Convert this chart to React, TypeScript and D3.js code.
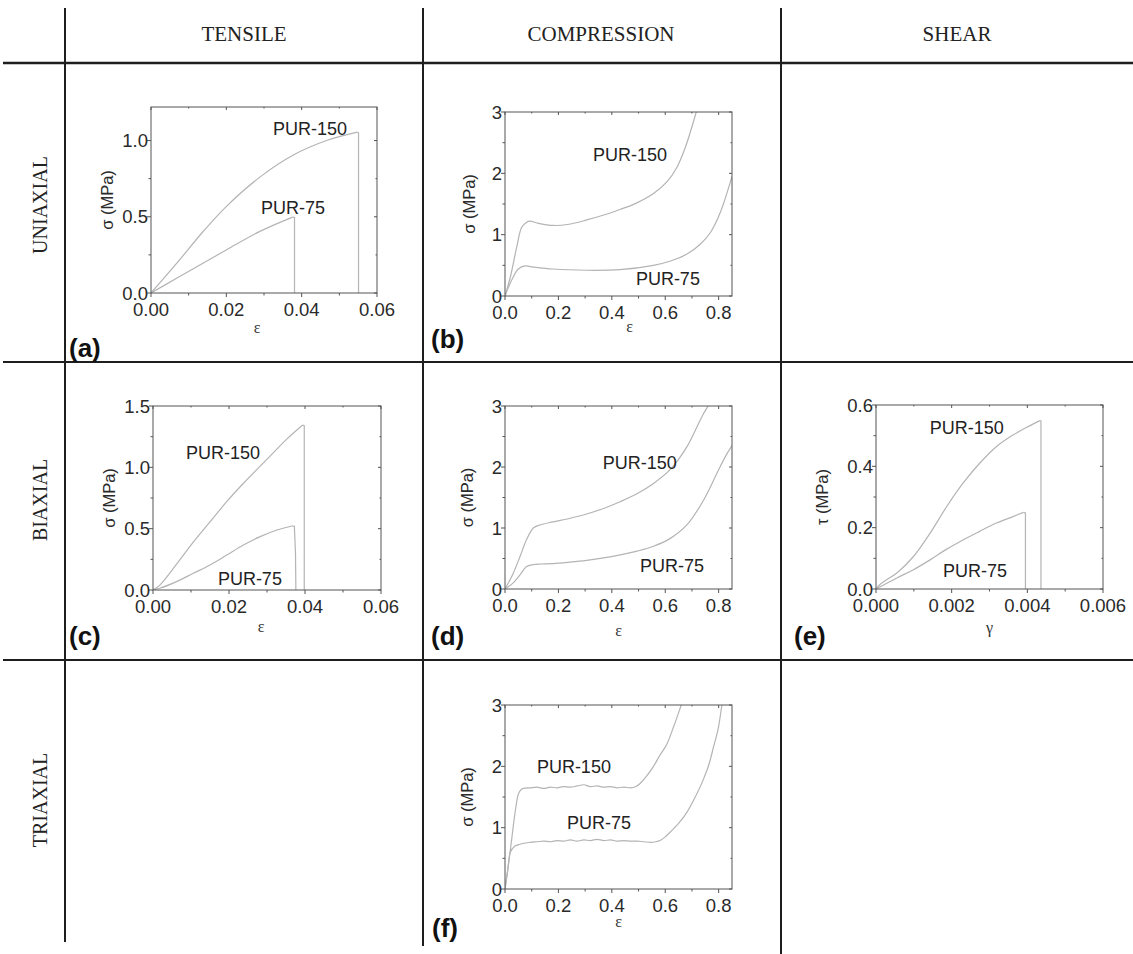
import React from "react";
import * as d3 from "d3";

type Pt = [number, number];

// ---------- headers ----------
const columnHeaders = ["TENSILE", "COMPRESSION", "SHEAR"];
const rowHeaders = ["UNIAXIAL", "BIAXIAL", "TRIAXIAL"];

// ---------- data (ε or γ, stress in MPa) ----------
const aPur150: Pt[] = [[0, 0], [0.0069, 0.197], [0.0139, 0.405], [0.0201, 0.57], [0.0289, 0.76], [0.0378, 0.905], [0.0466, 1.0], [0.0548, 1.055]];
const aPur150Drop: Pt[] = [[0.0548, 1.055], [0.0551, 1.05], [0.0551, 0]];
const aPur75: Pt[] = [[0, 0], [0.0069, 0.098], [0.0139, 0.197], [0.0201, 0.284], [0.0289, 0.404], [0.0376, 0.498]];
const aPur75Drop: Pt[] = [[0.0376, 0.498], [0.0381, 0.495], [0.0381, 0]];

const bPur150: Pt[] = [[0, 0], [0.02, 0.31], [0.044, 0.8], [0.0625, 1.12], [0.08, 1.2], [0.094, 1.22], [0.12, 1.19], [0.18, 1.15], [0.24, 1.17], [0.306, 1.24], [0.37, 1.32], [0.43, 1.41], [0.49, 1.51], [0.556, 1.67], [0.606, 1.86], [0.644, 2.1], [0.675, 2.42], [0.7, 2.76], [0.716, 3.0], [0.725, 3.15]];
const bPur75: Pt[] = [[0, 0], [0.025, 0.26], [0.05, 0.44], [0.075, 0.49], [0.094, 0.48], [0.18, 0.44], [0.306, 0.42], [0.43, 0.43], [0.556, 0.5], [0.62, 0.57], [0.68, 0.68], [0.73, 0.84], [0.77, 1.04], [0.806, 1.36], [0.85, 1.95]];

const cPur150: Pt[] = [[0, 0], [0.0018, 0.04], [0.0062, 0.21], [0.0106, 0.39], [0.015, 0.555], [0.0194, 0.72], [0.0238, 0.87], [0.0282, 1.01], [0.0317, 1.12], [0.0352, 1.23], [0.0394, 1.345]];
const cPur150Drop: Pt[] = [[0.0394, 1.345], [0.0398, 1.34], [0.0398, 0]];
const cPur75: Pt[] = [[0, 0], [0.0018, 0.014], [0.0062, 0.068], [0.0106, 0.136], [0.015, 0.204], [0.0194, 0.285], [0.0238, 0.367], [0.0282, 0.435], [0.0326, 0.489], [0.0365, 0.522]];
const cPur75Drop: Pt[] = [[0.0365, 0.522], [0.0372, 0.52], [0.0375, 0.3], [0.0376, 0]];

const dPur150: Pt[] = [[0, 0], [0.031, 0.26], [0.056, 0.53], [0.081, 0.81], [0.106, 1.0], [0.131, 1.05], [0.18, 1.1], [0.244, 1.16], [0.306, 1.23], [0.369, 1.32], [0.431, 1.43], [0.494, 1.56], [0.556, 1.73], [0.619, 1.96], [0.681, 2.33], [0.719, 2.66], [0.744, 2.88], [0.76, 3.0], [0.768, 3.1]];
const dPur75: Pt[] = [[0, 0], [0.031, 0.1], [0.056, 0.23], [0.081, 0.37], [0.106, 0.4], [0.131, 0.41], [0.18, 0.415], [0.244, 0.44], [0.306, 0.47], [0.369, 0.51], [0.431, 0.56], [0.494, 0.62], [0.556, 0.7], [0.619, 0.83], [0.681, 1.05], [0.744, 1.46], [0.794, 1.9], [0.825, 2.17], [0.85, 2.35]];

const ePur150: Pt[] = [[0, 0], [0.0001, 0.014], [0.00028, 0.03], [0.00055, 0.052], [0.00099, 0.106], [0.00143, 0.182], [0.00187, 0.269], [0.0023, 0.345], [0.00274, 0.41], [0.00318, 0.464], [0.00362, 0.502], [0.00406, 0.532], [0.00433, 0.549]];
const ePur150Drop: Pt[] = [[0.00433, 0.549], [0.00436, 0.548], [0.00436, 0]];
const ePur75: Pt[] = [[0, 0], [0.00055, 0.036], [0.00099, 0.063], [0.00143, 0.095], [0.00187, 0.13], [0.0023, 0.16], [0.00274, 0.188], [0.00318, 0.215], [0.00362, 0.236], [0.0039, 0.25]];
const ePur75Drop: Pt[] = [[0.0039, 0.25], [0.00395, 0.248], [0.00395, 0]];

const fPur150: Pt[] = [[0, 0], [0.0125, 0.38], [0.025, 0.81], [0.0375, 1.24], [0.05, 1.55], [0.069, 1.64], [0.094, 1.65], [0.12, 1.66], [0.145, 1.64], [0.17, 1.66], [0.195, 1.65], [0.22, 1.67], [0.245, 1.66], [0.27, 1.68], [0.295, 1.7], [0.32, 1.67], [0.345, 1.68], [0.37, 1.66], [0.395, 1.67], [0.42, 1.65], [0.445, 1.66], [0.47, 1.65], [0.49, 1.67], [0.506, 1.72], [0.53, 1.84], [0.556, 2.0], [0.58, 2.18], [0.606, 2.36], [0.631, 2.64], [0.66, 3.0], [0.668, 3.1]];
const fPur75: Pt[] = [[0, 0], [0.009, 0.27], [0.019, 0.59], [0.0375, 0.7], [0.056, 0.73], [0.094, 0.76], [0.12, 0.77], [0.145, 0.78], [0.17, 0.77], [0.195, 0.79], [0.22, 0.78], [0.245, 0.8], [0.27, 0.78], [0.295, 0.8], [0.32, 0.79], [0.345, 0.81], [0.37, 0.79], [0.395, 0.8], [0.42, 0.78], [0.445, 0.79], [0.47, 0.78], [0.495, 0.78], [0.52, 0.77], [0.545, 0.76], [0.565, 0.77], [0.58, 0.79], [0.6, 0.85], [0.619, 0.93], [0.65, 1.07], [0.681, 1.25], [0.71, 1.48], [0.744, 1.8], [0.765, 2.05], [0.781, 2.32], [0.8, 2.65], [0.8125, 3.0], [0.817, 3.1]];

// ---------- tick values ----------
const tensileStrainTicks = [0, 0.02, 0.04, 0.06];
const compStrainTicks = [0, 0.2, 0.4, 0.6, 0.8];
const shearStrainTicks = [0, 0.002, 0.004, 0.006];
const aStressTicks = [0, 0.5, 1.0];
const cStressTicks = [0, 0.5, 1.0, 1.5];
const compStressTicks = [0, 1, 2, 3];
const shearStressTicks = [0, 0.2, 0.4, 0.6];

interface Series { pts: Pt[]; drop?: Pt[]; smooth?: boolean; }
interface Label { text: string; x: number; y: number; }
interface Panel {
  id: string;
  box: { l: number; r: number; t: number; b: number };
  xDom: [number, number]; yDom: [number, number];
  xTicks: number[]; yTicks: number[]; xMinor: number; yMinor: number;
  xFmt: string; yFmt: string;
  xTitle: string; yTitle: string;
  yTitleDx: number; xTitleDy: number; xTitleDx: number;
  series: Series[]; labels: Label[];
  tag: { x: number; y: number };
}

const panels: Panel[] = [
  {
    id: "a", box: { l: 151, r: 377, t: 107, b: 293 }, xDom: [0, 0.06], yDom: [0, 1.22],
    xTicks: tensileStrainTicks, yTicks: aStressTicks, xMinor: 0.01, yMinor: 0.25, xFmt: ".2f", yFmt: ".1f",
    xTitle: "ε", yTitle: "σ (MPa)", yTitleDx: -44, xTitleDy: 40, xTitleDx: -7,
    series: [{ pts: aPur150, drop: aPur150Drop }, { pts: aPur75, drop: aPur75Drop }],
    labels: [{ text: "PUR-150", x: 0.0422, y: 1.08 }, { text: "PUR-75", x: 0.0377, y: 0.56 }],
    tag: { x: 69, y: 357 },
  },
  {
    id: "b", box: { l: 505, r: 732, t: 112, b: 296 }, xDom: [0, 0.85], yDom: [0, 3],
    xTicks: compStrainTicks, yTicks: compStressTicks, xMinor: 0.1, yMinor: 0.5, xFmt: ".1f", yFmt: "d",
    xTitle: "ε", yTitle: "σ (MPa)", yTitleDx: -36, xTitleDy: 36, xTitleDx: 11,
    series: [{ pts: bPur150 }, { pts: bPur75 }],
    labels: [{ text: "PUR-150", x: 0.468, y: 2.3 }, { text: "PUR-75", x: 0.61, y: 0.28 }],
    tag: { x: 431, y: 348 },
  },
  {
    id: "c", box: { l: 153, r: 381, t: 406, b: 590 }, xDom: [0, 0.06], yDom: [0, 1.5],
    xTicks: tensileStrainTicks, yTicks: cStressTicks, xMinor: 0.01, yMinor: 0.25, xFmt: ".2f", yFmt: ".1f",
    xTitle: "ε", yTitle: "σ (MPa)", yTitleDx: -44, xTitleDy: 42, xTitleDx: -6,
    series: [{ pts: cPur150, drop: cPur150Drop }, { pts: cPur75, drop: cPur75Drop }],
    labels: [{ text: "PUR-150", x: 0.0184, y: 1.117 }, { text: "PUR-75", x: 0.0255, y: 0.09 }],
    tag: { x: 69, y: 645 },
  },
  {
    id: "d", box: { l: 505, r: 732, t: 406, b: 589 }, xDom: [0, 0.85], yDom: [0, 3],
    xTicks: compStrainTicks, yTicks: compStressTicks, xMinor: 0.1, yMinor: 0.5, xFmt: ".1f", yFmt: "d",
    xTitle: "ε", yTitle: "σ (MPa)", yTitleDx: -38, xTitleDy: 47, xTitleDx: 0,
    series: [{ pts: dPur150 }, { pts: dPur75 }],
    labels: [{ text: "PUR-150", x: 0.505, y: 2.08 }, { text: "PUR-75", x: 0.625, y: 0.377 }],
    tag: { x: 431, y: 645 },
  },
  {
    id: "e", box: { l: 876, r: 1103, t: 405, b: 589 }, xDom: [0, 0.006], yDom: [0, 0.6],
    xTicks: shearStrainTicks, yTicks: shearStressTicks, xMinor: 0.001, yMinor: 0.1, xFmt: ".3f", yFmt: ".1f",
    xTitle: "γ", yTitle: "τ (MPa)", yTitleDx: -54, xTitleDy: 44, xTitleDx: 0,
    series: [{ pts: ePur150, drop: ePur150Drop }, { pts: ePur75, drop: ePur75Drop }],
    labels: [{ text: "PUR-150", x: 0.0024, y: 0.528 }, { text: "PUR-75", x: 0.00262, y: 0.059 }],
    tag: { x: 794, y: 645 },
  },
  {
    id: "f", box: { l: 505, r: 732, t: 705, b: 889 }, xDom: [0, 0.85], yDom: [0, 3],
    xTicks: compStrainTicks, yTicks: compStressTicks, xMinor: 0.1, yMinor: 0.5, xFmt: ".1f", yFmt: "d",
    xTitle: "ε", yTitle: "σ (MPa)", yTitleDx: -38, xTitleDy: 38, xTitleDx: 0,
    series: [{ pts: fPur150, smooth: true }, { pts: fPur75, smooth: true }],
    labels: [{ text: "PUR-150", x: 0.258, y: 1.99 }, { text: "PUR-75", x: 0.352, y: 1.09 }],
    tag: { x: 432, y: 937 },
  },
];

const SANS = "Arial, 'Liberation Sans', Helvetica, sans-serif";
const SERIF = "'Liberation Serif', 'Times New Roman', serif";
const AXIS = "#555";
const CURVE = "#b4b4b4";
const GRID = "#1e1e1e";

function minorValues(dom: [number, number], step: number): number[] {
  const out: number[] = [];
  const n = Math.round((dom[1] - dom[0]) / step);
  for (let i = 0; i <= n; i++) out.push(+(dom[0] + i * step).toFixed(6));
  return out.filter((v) => v <= dom[1] + 1e-9);
}

function PanelView({ p }: { p: Panel }) {
  const { l, r, t, b } = p.box;
  const x = d3.scaleLinear().domain(p.xDom).range([l, r]);
  const y = d3.scaleLinear().domain(p.yDom).range([b, t]);
  const fx = d3.format(p.xFmt);
  const fy = d3.format(p.yFmt);
  const curveLine = d3.line<Pt>().x((d) => x(d[0])).y((d) => y(d[1])).curve(d3.curveCatmullRom.alpha(0.5));
  const wiggleLine = d3.line<Pt>().x((d) => x(d[0])).y((d) => y(d[1])).curve(d3.curveMonotoneX);
  const straight = d3.line<Pt>().x((d) => x(d[0])).y((d) => y(d[1]));
  const clipId = `clip-${p.id}`;
  const xm = minorValues(p.xDom, p.xMinor);
  const ym = minorValues(p.yDom, p.yMinor);
  const isMajorX = (v: number) => p.xTicks.some((tk) => Math.abs(tk - v) < 1e-9);
  const isMajorY = (v: number) => p.yTicks.some((tk) => Math.abs(tk - v) < 1e-9);
  return (
    <g>
      <defs>
        <clipPath id={clipId}>
          <rect x={l} y={t} width={r - l} height={b - t} />
        </clipPath>
      </defs>
      <g clipPath={`url(#${clipId})`} fill="none" stroke={CURVE} strokeWidth={1.2}>
        {p.series.map((s, i) => (
          <g key={i}>
            <path d={(s.smooth ? wiggleLine : curveLine)(s.pts) || ""} />
            {s.drop && <path d={straight(s.drop) || ""} />}
          </g>
        ))}
      </g>
      <rect x={l} y={t} width={r - l} height={b - t} fill="none" stroke={AXIS} strokeWidth={1} />
      <g stroke={AXIS} strokeWidth={1}>
        {xm.map((v, i) => {
          const major = isMajorX(v);
          const len = major ? 4 : 2.5;
          return (
            <g key={"x" + i}>
              <line x1={x(v)} x2={x(v)} y1={b} y2={b + len} />
              <line x1={x(v)} x2={x(v)} y1={t} y2={t + len - 1} />
            </g>
          );
        })}
        {ym.map((v, i) => {
          const major = isMajorY(v);
          const len = major ? 4 : 2.5;
          return (
            <g key={"y" + i}>
              <line x1={l - len} x2={l} y1={y(v)} y2={y(v)} />
              <line x1={r - len + 1} x2={r} y1={y(v)} y2={y(v)} />
            </g>
          );
        })}
      </g>
      <g fontFamily={SANS} fontSize={18.5} fill="#2a2a2a">
        {p.xTicks.map((v, i) => (
          <text key={"xt" + i} x={x(v)} y={b + 23} textAnchor="middle">{fx(v)}</text>
        ))}
        {p.yTicks.map((v, i) => (
          <text key={"yt" + i} x={l - 3} y={y(v)} dy="0.36em" textAnchor="end">{fy(v)}</text>
        ))}
        <text
          transform={`translate(${l + p.yTitleDx},${(t + b) / 2}) rotate(-90)`}
          textAnchor="middle" dy="0.36em" fontSize={16.5}
        >{p.yTitle}</text>
      </g>
      <text x={(l + r) / 2 + p.xTitleDx} y={b + p.xTitleDy} textAnchor="middle" fontFamily={SERIF} fontSize={16} fill="#333">{p.xTitle}</text>
      <g fontFamily={SANS} fontSize={18} fill="#222">
        {p.labels.map((lb, i) => (
          <text key={i} x={x(lb.x)} y={y(lb.y)} dy="0.36em" textAnchor="middle">{lb.text}</text>
        ))}
      </g>
      <text x={p.tag.x} y={p.tag.y} fontFamily={SANS} fontWeight="bold" fontSize={26} fill="#111">{`(${p.id})`}</text>
    </g>
  );
}

const colCenters = [244, 601, 957];
const rowCenters = [205, 500, 800];

export default function App() {
  return (
    <svg width={1133} height={954} style={{ position: "absolute", left: 0, top: 0, background: "#fff" }}>
      <rect x={0} y={0} width={1133} height={954} fill="#fff" />
      <g stroke={GRID} strokeWidth={2}>
        <line x1={65} x2={65} y1={8} y2={942} />
        <line x1={423} x2={423} y1={8} y2={946} />
        <line x1={781} x2={781} y1={8} y2={954} />
        <line x1={3} x2={1133} y1={63} y2={63} strokeWidth={2.5} />
        <line x1={3} x2={1133} y1={362} y2={362} />
        <line x1={3} x2={1133} y1={660} y2={660} />
      </g>
      <g fontFamily={SERIF} fontSize={21} fill="#222">
        {columnHeaders.map((h, i) => (
          <text key={h} x={colCenters[i]} y={33} dy="0.36em" textAnchor="middle">{h}</text>
        ))}
        {rowHeaders.map((h, i) => (
          <text key={h} transform={`translate(40,${rowCenters[i]}) rotate(-90)`} dy="0.36em" textAnchor="middle" fontSize={20}>{h}</text>
        ))}
      </g>
      {panels.map((p) => <PanelView key={p.id} p={p} />)}
    </svg>
  );
}
